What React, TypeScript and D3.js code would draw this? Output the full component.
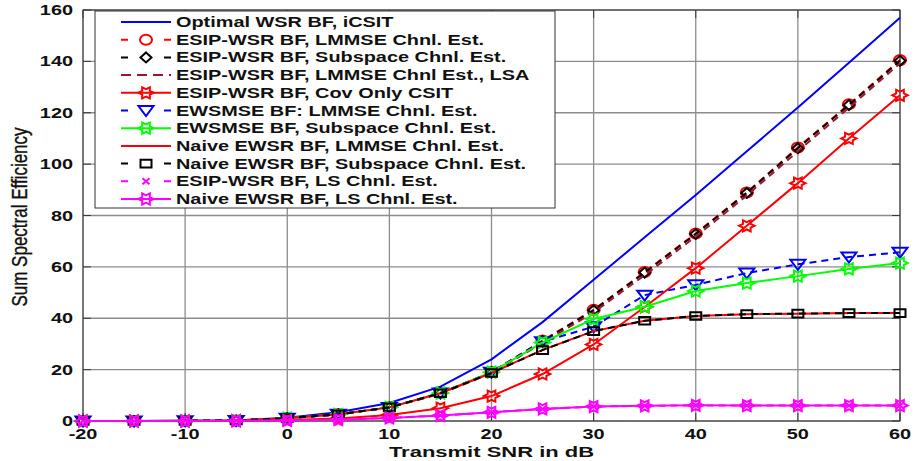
import React from 'react';
import * as d3 from 'd3';

const snr = [-20, -15, -10, -5, 0, 5, 10, 15, 20, 25, 30, 35, 40, 45, 50, 55, 60];

const optimalWsr = [0, 0, 0.05, 0.2, 1.3, 3.4, 7.0, 13.4, 24, 38.5, 55, 71.5, 88, 105, 122, 139.5, 157];
const esipLmmse = [0, 0, 0.05, 0.2, 1.1, 2.6, 5.3, 10.9, 19, 31.3, 43.3, 58, 73, 89, 106.5, 123.3, 140.5];
const esipSubspace = [0, 0, 0.05, 0.2, 1.1, 2.6, 5.3, 10.8, 18.9, 31.1, 43.1, 57.8, 72.8, 88.8, 106.2, 123, 140.2];
const esipLmmseLsa = [0, 0, 0.05, 0.2, 1.0, 2.5, 5.2, 10.6, 18.6, 30.4, 42.3, 56.8, 71.8, 87.8, 105, 122, 139.2];
const esipCovOnly = [0, 0, 0, 0.1, 0.4, 1.0, 2.3, 5.0, 9.7, 18.3, 29.8, 44.4, 59.5, 76, 92.6, 110, 126.8];
const ewsmseLmmse = [0, 0, 0.05, 0.2, 1.1, 2.6, 5.3, 10.9, 19, 30.9, 36.7, 49, 53, 57.6, 61, 63.8, 65.7];
const ewsmseSubspace = [0, 0, 0.05, 0.2, 1.1, 2.6, 5.3, 10.9, 19, 30.6, 39.7, 44.5, 50.6, 53.7, 56.4, 59.2, 61.5];
const naiveLmmse = [0, 0, 0.05, 0.2, 1.1, 2.6, 5.3, 10.8, 18.7, 27.7, 35, 39, 40.9, 41.6, 41.8, 42, 42];
const naiveSubspace = [0, 0, 0.05, 0.2, 1.1, 2.6, 5.3, 10.8, 18.7, 27.6, 35, 39, 40.9, 41.6, 41.8, 42, 42];
const esipLs = [0, 0, 0, 0.05, 0.2, 0.5, 1.2, 2.1, 3.4, 4.7, 5.6, 5.9, 6.1, 6.0, 6.0, 6.0, 6.0];
const naiveLs = [0, 0, 0, 0.05, 0.2, 0.5, 1.2, 2.1, 3.4, 4.7, 5.6, 5.9, 6.1, 6.0, 6.0, 6.0, 6.0];

const seriesNames = [
  'Optimal WSR BF, iCSIT',
  'ESIP-WSR BF, LMMSE Chnl. Est.',
  'ESIP-WSR BF, Subspace Chnl. Est.',
  'ESIP-WSR BF, LMMSE Chnl Est., LSA',
  'ESIP-WSR BF, Cov Only CSIT',
  'EWSMSE BF: LMMSE Chnl. Est.',
  'EWSMSE BF, Subspace Chnl. Est.',
  'Naive EWSR BF, LMMSE Chnl. Est.',
  'Naive EWSR BF, Subspace Chnl. Est.',
  'ESIP-WSR BF, LS Chnl. Est.',
  'Naive EWSR BF, LS Chnl. Est.',
];

const xTicks = [-20, -10, 0, 10, 20, 30, 40, 50, 60];
const yTicks = [0, 20, 40, 60, 80, 100, 120, 140, 160];

type MarkerKind = 'none' | 'circle' | 'diamond' | 'hexagram' | 'triangleDown' | 'square' | 'x';

const seriesValues = [
  optimalWsr, esipLmmse, esipSubspace, esipLmmseLsa, esipCovOnly,
  ewsmseLmmse, ewsmseSubspace, naiveLmmse, naiveSubspace, esipLs, naiveLs,
];
const seriesColors = ['#0000ff', '#ff0000', '#000000', '#a2142f', '#ff0000', '#0000ff', '#00ff00', '#ff0000', '#000000', '#ff00ff', '#ff00ff'];
const seriesDashed = [false, true, true, true, false, true, false, false, true, true, false];
const seriesMarkers: MarkerKind[] = ['none', 'circle', 'diamond', 'none', 'hexagram', 'triangleDown', 'hexagram', 'none', 'square', 'x', 'hexagram'];

const W = 914;
const H = 461;
const SX = 1.42; // horizontal text stretch
const FONT = '"Liberation Sans", Arial, Helvetica, sans-serif';

function markerPath(kind: MarkerKind): string {
  const sx = 1.2;
  switch (kind) {
    case 'circle': {
      const rx = 6, ry = 5;
      return `M${-rx},0A${rx},${ry} 0 1,0 ${rx},0A${rx},${ry} 0 1,0 ${-rx},0Z`;
    }
    case 'diamond':
      return `M0,-5L${5.5},0L0,5L${-5.5},0Z`;
    case 'triangleDown':
      return `M-7.5,-4.5L7.5,-4.5L0,5.5Z`;
    case 'square':
      return `M-5.5,-3.8L5.5,-3.8L5.5,3.8L-5.5,3.8Z`;
    case 'x':
      return `M-3.5,-3L3.5,3M-3.5,3L3.5,-3`;
    case 'hexagram': {
      const R = 6.4;
      const r = R / Math.sqrt(3);
      const pts: string[] = [];
      for (let i = 0; i < 12; i++) {
        const a = (Math.PI / 6) * i;
        const rad = i % 2 === 0 ? R : r;
        pts.push(`${(rad * Math.cos(a) * sx).toFixed(2)},${(rad * Math.sin(a)).toFixed(2)}`);
      }
      return 'M' + pts.join('L') + 'Z';
    }
    default:
      return '';
  }
}

function STxt(props: { x: number; y: number; anchor?: string; size: number; weight?: string; fill?: string; children: React.ReactNode }) {
  const { x, y, anchor = 'start', size, weight = 'bold', fill = '#111', children } = props;
  return (
    <g transform={`translate(${x},${y}) scale(${SX},1)`}>
      <text textAnchor={anchor as any} fontSize={size} fontWeight={weight} fontFamily={FONT} fill={fill}>
        {children}
      </text>
    </g>
  );
}

export default function App() {
  const left = 83, right = 900, top = 10, bottom = 421;
  const x = d3.scaleLinear().domain([-20, 60]).range([left, right]);
  const y = d3.scaleLinear().domain([0, 160]).range([bottom, top]);
  const line = d3.line<number>().x((_, i) => x(snr[i])).y((d) => y(d));

  const gridColor = '#8c8c8c';

  const legendLeft = 95, legendTop = 11, legendRight = 555, legendBottom = 208;
  const rowY0 = 22, rowStep = 17.7;

  return (
    <svg width={W} height={H} style={{ position: 'absolute', left: 0, top: 0, background: '#fff' }}>
      <rect x={0} y={0} width={W} height={H} fill="#fff" />
      {/* grid */}
      {xTicks.map((t) => (
        <line key={'gx' + t} x1={x(t)} x2={x(t)} y1={top} y2={bottom} stroke={gridColor} strokeWidth={1.3} />
      ))}
      {yTicks.map((t) => (
        <line key={'gy' + t} x1={left} x2={right} y1={y(t)} y2={y(t)} stroke={gridColor} strokeWidth={1.3} />
      ))}
      {/* axes box */}
      <rect x={left} y={top} width={right - left} height={bottom - top} fill="none" stroke="#3a3a3a" strokeWidth={1} />
      {/* tick marks */}
      {xTicks.map((t) => (
        <g key={'tx' + t}>
          <line x1={x(t)} x2={x(t)} y1={bottom} y2={bottom - 8} stroke="#3a3a3a" strokeWidth={1} />
          <line x1={x(t)} x2={x(t)} y1={top} y2={top + 8} stroke="#3a3a3a" strokeWidth={1} />
        </g>
      ))}
      {yTicks.map((t) => (
        <g key={'ty' + t}>
          <line x1={left} x2={left + 8} y1={y(t)} y2={y(t)} stroke="#3a3a3a" strokeWidth={1} />
          <line x1={right} x2={right - 8} y1={y(t)} y2={y(t)} stroke="#3a3a3a" strokeWidth={1} />
        </g>
      ))}
      {/* series */}
      {seriesValues.map((vals, si) => {
        const color = seriesColors[si];
        const mk = seriesMarkers[si];
        const p = markerPath(mk);
        return (
          <g key={'s' + si}>
            <path d={line(vals) || ''} fill="none" stroke={color} strokeWidth={2} strokeDasharray={seriesDashed[si] ? '7,5' : undefined} />
            {mk !== 'none' &&
              vals.map((v, i) => (
                <path key={i} d={p} transform={`translate(${x(snr[i])},${y(v)})`} fill="none" stroke={color} strokeWidth={2} />
              ))}
          </g>
        );
      })}
      {/* tick labels */}
      {xTicks.map((t) => (
        <STxt key={'lx' + t} x={x(t)} y={439} anchor="middle" size={14}>{String(t)}</STxt>
      ))}
      {yTicks.map((t) => (
        <STxt key={'ly' + t} x={73} y={y(t) + 5} anchor="end" size={14}>{String(t)}</STxt>
      ))}
      {/* axis labels */}
      <STxt x={(left + right) / 2} y={457} anchor="middle" size={15.5}>Transmit SNR in dB</STxt>
      <g transform={`translate(27,217) scale(1.3,1) rotate(-90)`}>
        <text textAnchor="middle" fontSize={17} fontFamily={FONT} fill="#111" stroke="#111" strokeWidth={0.3}>Sum Spectral Efficiency</text>
      </g>
      {/* legend */}
      <rect x={legendLeft} y={legendTop} width={legendRight - legendLeft} height={legendBottom - legendTop} fill="#fff" stroke="#333" strokeWidth={1} />
      {seriesNames.map((name, i) => {
        const ry = rowY0 + i * rowStep;
        const color = seriesColors[i];
        const mk = seriesMarkers[i];
        const dashed = seriesDashed[i];
        const dash = dashed ? (mk === 'none' ? '10,6' : '7,36') : undefined;
        return (
          <g key={'lg' + i}>
            <line x1={121} x2={171} y1={ry} y2={ry} stroke={color} strokeWidth={2} strokeDasharray={dash} />
            {mk !== 'none' && <path d={markerPath(mk)} transform={`translate(146,${ry})`} fill="none" stroke={color} strokeWidth={2} />}
            <STxt x={176} y={ry + 5} size={14}>{name}</STxt>
          </g>
        );
      })}
    </svg>
  );
}
